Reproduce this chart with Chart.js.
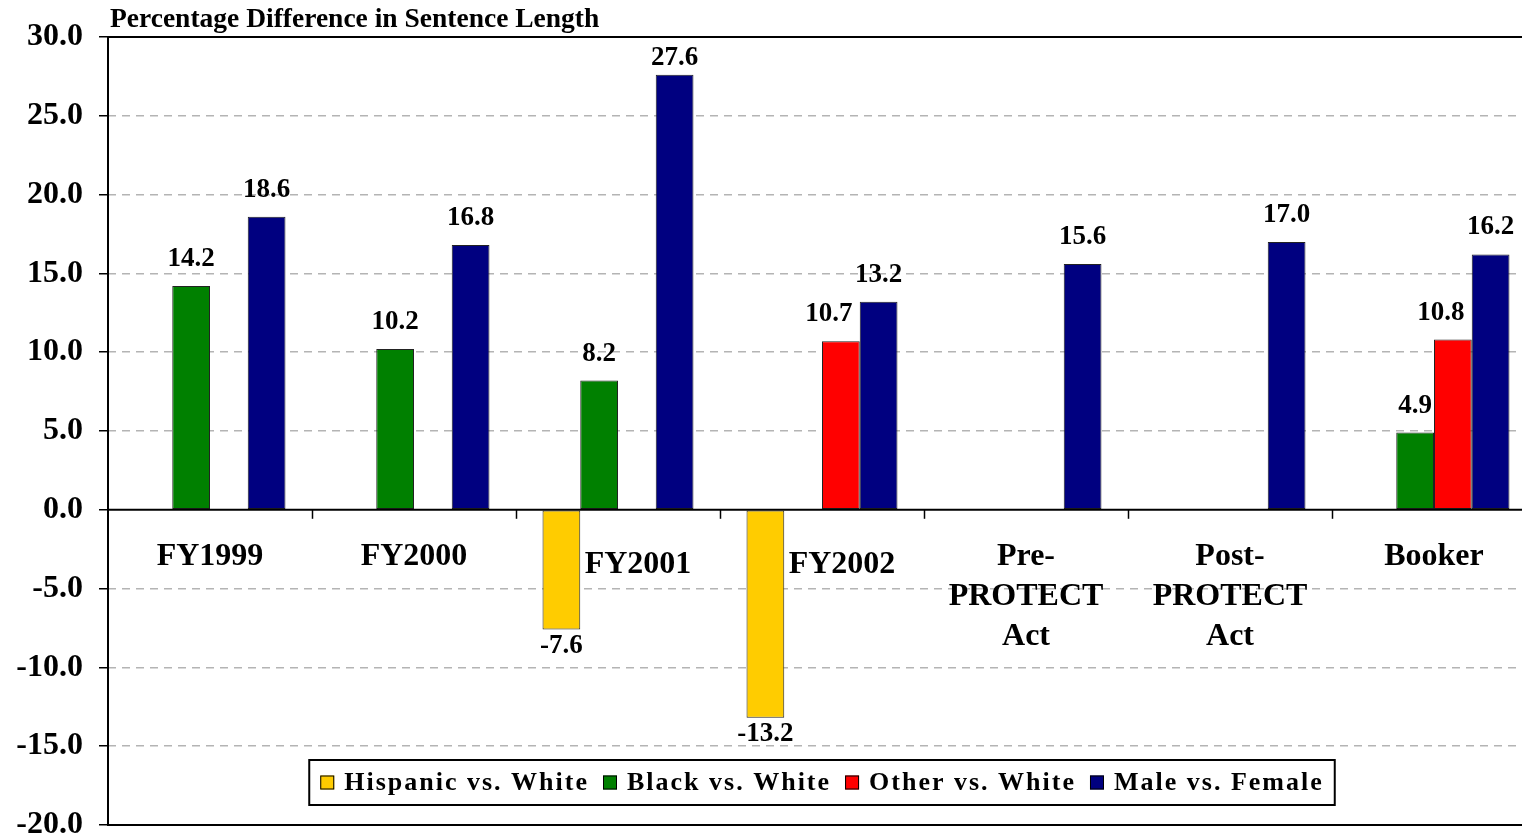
<!DOCTYPE html>
<html>
<head>
<meta charset="utf-8">
<script src="https://cdn.jsdelivr.net/npm/chart.js@4.4.0/dist/chart.umd.min.js"></script>
<style>
  html, body { margin: 0; padding: 0; background: #fff; overflow: hidden; }
  #wrap { width: 1540px; height: 840px; }
</style>
</head>
<body>
<div id="wrap"><canvas id="myChart" width="1540" height="840"></canvas></div>
<script>
const categories = ['FY1999', 'FY2000', 'FY2001', 'FY2002', ['Pre-', 'PROTECT', 'Act'], ['Post-', 'PROTECT', 'Act'], 'Booker'];
const hispanic = [null, null, -7.6, -13.2, null, null, null];
const black = [14.2, 10.2, 8.2, null, null, null, 4.9];
const other = [null, null, null, 10.7, null, null, 10.8];
const maleFemale = [18.6, 16.8, 27.6, 13.2, 15.6, 17.0, 16.2];
const yTicks = [-20, -15, -10, -5, 0, 5, 10, 15, 20, 25, 30];

const SERIF = '"Liberation Serif", "Times New Roman", serif';

// bar values, category labels, zero line, frame and legend drawn on the canvas
const decorations = {
    id: 'decorations',
    afterDatasetsDraw(chart, args, opts) {
        const { ctx, chartArea: area, scales: { x, y } } = chart;
        const zero = y.getPixelForValue(0);
        ctx.save();

        // zero line with category ticks
        ctx.strokeStyle = '#000';
        ctx.lineWidth = 2;
        ctx.beginPath();
        ctx.moveTo(area.left, zero);
        ctx.lineTo(area.right, zero);
        ctx.stroke();
        const step = area.width / categories.length;
        ctx.lineWidth = 1.5;
        for (let i = 1; i < categories.length; i++) {
            const px = Math.round(area.left + i * step) + 0.5;
            ctx.beginPath();
            ctx.moveTo(px, zero);
            ctx.lineTo(px, zero + 9);
            ctx.stroke();
        }

        // frame
        ctx.lineWidth = 2;
        ctx.strokeRect(area.left, area.top, area.width, area.height);

        // value labels
        ctx.fillStyle = '#000';
        ctx.font = 'bold 27px ' + SERIF;
        ctx.textAlign = 'center';
        ctx.textBaseline = 'middle';
        chart.data.datasets.forEach((ds, di) => {
            const meta = chart.getDatasetMeta(di);
            const dx = opts.valueShift[di] || 0;
            meta.data.forEach((bar, i) => {
                const v = ds.data[i];
                if (v === null) return;
                if (v >= 0) {
                    ctx.fillText(v.toFixed(1), bar.x + dx, Math.max(bar.y - 27, area.top + 21));
                } else {
                    ctx.fillText(v.toFixed(1), bar.x + dx, bar.y + 16);
                }
            });
        });

        // category labels
        ctx.font = 'bold 32px ' + SERIF;
        ctx.textBaseline = 'middle';
        categories.forEach((c, i) => {
            const lines = Array.isArray(c) ? c : [c];
            const nudge = opts.nudge[i] || [0, 0];
            const cx = x.getPixelForValue(i) + nudge[0];
            lines.forEach((t, li) => {
                ctx.fillText(t, cx, zero + 47 + nudge[1] + li * 40);
            });
        });

        // legend
        ctx.font = 'bold 26px ' + SERIF;
        ctx.letterSpacing = '2px';
        ctx.textAlign = 'left';
        const box = 14, gapBox = 10, gapItem = 14, padX = 11;
        const items = chart.data.datasets.map(ds => ({ text: ds.label, color: ds.backgroundColor, w: ctx.measureText(ds.label).width }));
        let total = padX * 2;
        items.forEach((it, i) => { total += box + gapBox + it.w + (i < items.length - 1 ? gapItem : 0); });
        const lx = (area.left + area.right) / 2 - total / 2;
        const ly = 760, lh = 45;
        ctx.fillStyle = '#fff';
        ctx.fillRect(lx, ly, total, lh);
        ctx.strokeStyle = '#000';
        ctx.lineWidth = 2;
        ctx.strokeRect(lx, ly, total, lh);
        let cx = lx + padX;
        const my = ly + lh / 2;
        items.forEach(it => {
            ctx.fillStyle = it.color;
            ctx.fillRect(cx, my - box / 2, box, box);
            ctx.lineWidth = 1;
            ctx.strokeStyle = '#000';
            ctx.strokeRect(cx + 0.5, my - box / 2 + 0.5, box - 1, box - 1);
            cx += box + gapBox;
            ctx.fillStyle = '#000';
            ctx.textBaseline = 'middle';
            ctx.fillText(it.text, cx, my + 1);
            cx += it.w + gapItem;
        });
        ctx.letterSpacing = '0px';

        // title
        ctx.font = 'bold 27.5px ' + SERIF;
        ctx.textBaseline = 'middle';
        ctx.fillText('Percentage Difference in Sentence Length', area.left + 2, 20);
        ctx.restore();
    }
};

const data = {
    labels: categories,
    datasets: [
        { label: 'Hispanic vs. White', data: hispanic, backgroundColor: '#FFCC00' },
        { label: 'Black vs. White', data: black, backgroundColor: '#008000' },
        { label: 'Other vs. White', data: other, backgroundColor: '#FF0000' },
        { label: 'Male vs. Female', data: maleFemale, backgroundColor: '#000080' }
    ].map(d => Object.assign(d, { borderColor: '#222', borderWidth: 1, borderSkipped: false }))
};

const config = {
    type: 'bar',
    data: data,
    options: {
        responsive: false,
        animation: false,
        categoryPercentage: 0.74,
        barPercentage: 1,
        layout: { padding: { top: 37, right: 4, bottom: 15, left: 0 } },
        scales: {
            x: {
                display: false
            },
            y: {
                min: -20,
                max: 30,
                afterBuildTicks: (s) => { s.ticks = yTicks.map(v => ({ value: v })); },
                afterFit: (s) => { s.width = 108; s.paddingTop = 0; s.paddingBottom = 0; },
                ticks: {
                    padding: 16,
                    color: '#000',
                    font: { family: SERIF, size: 32, weight: 'bold' },
                    callback: (v) => Number(v).toFixed(1)
                },
                grid: {
                    color: (c) => (c.tick && c.tick.value === 0) ? 'rgba(0,0,0,0)' : '#b4b4b4',
                    tickColor: '#000',
                    tickLength: 9,
                    tickWidth: 1.5,
                    lineWidth: 1.5
                },
                border: { display: false, dash: [8, 6] }
            }
        },
        plugins: {
            legend: { display: false },
            tooltip: { enabled: false },
            decorations: { nudge: { 2: [20, 8], 3: [20, 8] }, valueShift: { 2: -12 } }
        }
    },
    plugins: [decorations]
};

const ctx = document.getElementById('myChart').getContext('2d');
new Chart(ctx, config);
</script>
</body>
</html>
